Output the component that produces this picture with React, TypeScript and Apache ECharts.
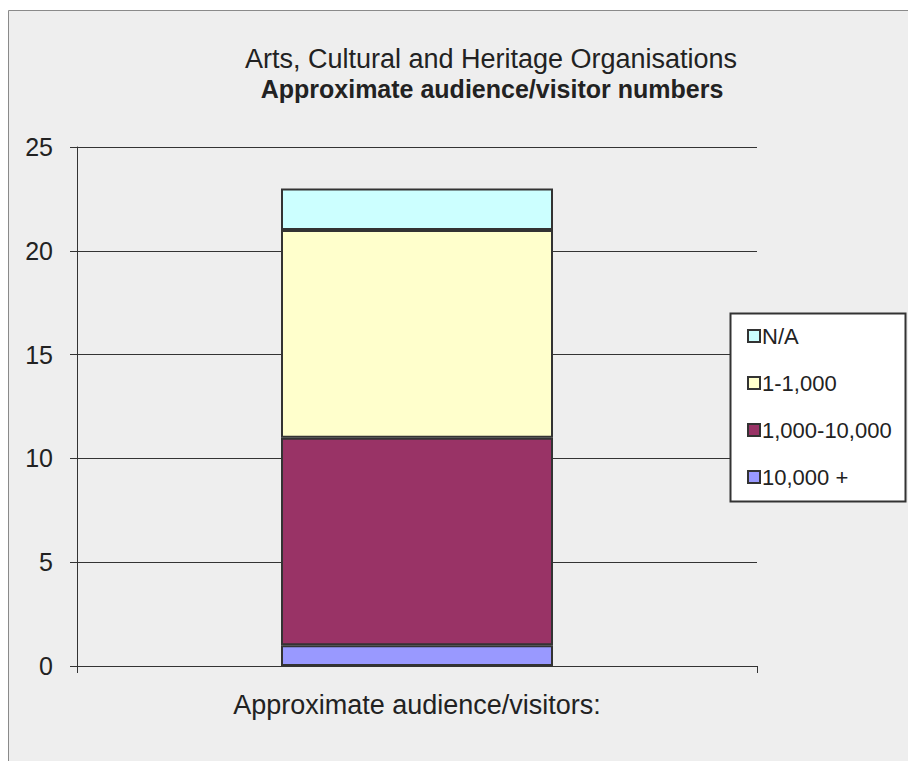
import React, { useEffect, useRef } from "react";
import * as echarts from "echarts";

const categories = ["Approximate audience/visitors:"];
const seriesNames = ["10,000 +", "1,000-10,000", "1-1,000", "N/A"];
const seriesValues = [[1], [10], [10], [2]];
const seriesColors = ["#9999FF", "#993366", "#FFFFCC", "#CCFFFF"];
const legendOrder = ["N/A", "1-1,000", "1,000-10,000", "10,000 +"];
const titleLine1 = "Arts, Cultural and Heritage Organisations";
const titleLine2 = "Approximate audience/visitor numbers";

const FONT = "'Liberation Sans', Arial, sans-serif";

export default function App() {
  const ref = useRef<HTMLDivElement>(null);
  useEffect(() => {
    if (!ref.current) return;
    const chart = echarts.init(ref.current, undefined, { renderer: "svg" });
    chart.setOption({
      animation: false,
      backgroundColor: "#ffffff",
      graphic: [
        {
          type: "rect",
          z: -10,
          shape: { x: 8.5, y: 10.5, width: 920, height: 770 },
          style: { fill: "#EEEEEE", stroke: "#8a8a8a", lineWidth: 1 },
        },
        {
          type: "rect",
          z: 1,
          shape: { x: 730.5, y: 313.5, width: 175, height: 188 },
          style: { fill: "#ffffff", stroke: "#333333", lineWidth: 2 },
        },
      ],
      title: [
        {
          text: titleLine1,
          left: 486,
          top: 40,
          textAlign: "center",
          textStyle: { fontFamily: FONT, fontSize: 27, fontWeight: "normal", color: "#222" },
        },
        {
          text: titleLine2,
          left: 487,
          top: 71,
          textAlign: "center",
          textStyle: { fontFamily: FONT, fontSize: 25, fontWeight: "bold", color: "#222" },
        },
      ],
      legend: {
        data: legendOrder,
        orient: "vertical",
        left: 742,
        top: 320,
        itemWidth: 12,
        itemHeight: 12,
        itemGap: 25,
        icon: "rect",
        z: 5,
        itemStyle: { borderColor: "#333", borderWidth: 2 },
        textStyle: { fontFamily: FONT, fontSize: 22, color: "#222", padding: [0, 0, 0, -3] },
      },
      grid: { left: 77, right: 151, top: 147, bottom: 95, containLabel: false },
      xAxis: {
        type: "category",
        data: categories,
        boundaryGap: true,
        axisLine: { lineStyle: { color: "#333", width: 1 } },
        axisTick: { show: true, length: 7, lineStyle: { color: "#333" } },
        axisLabel: { fontFamily: FONT, fontSize: 27, color: "#222", margin: 25 },
      },
      yAxis: {
        type: "value",
        min: 0,
        max: 25,
        interval: 5,
        axisLine: { show: true, lineStyle: { color: "#333", width: 1 } },
        axisTick: { show: true, length: 7, lineStyle: { color: "#333" } },
        axisLabel: { fontFamily: FONT, fontSize: 25, color: "#222", margin: 24 },
        splitLine: { show: true, lineStyle: { color: "#333", width: 1 } },
      },
      series: seriesNames.map((name, i) => ({
        name,
        type: "bar",
        stack: "total",
        data: seriesValues[i],
        barWidth: "40%",
        itemStyle: { color: seriesColors[i], borderColor: "#333", borderWidth: 2 },
      })),
    });
    return () => chart.dispose();
  }, []);
  return (
    <div
      ref={ref}
      style={{ position: "absolute", left: 0, top: 0, width: 908, height: 761 }}
    />
  );
}
